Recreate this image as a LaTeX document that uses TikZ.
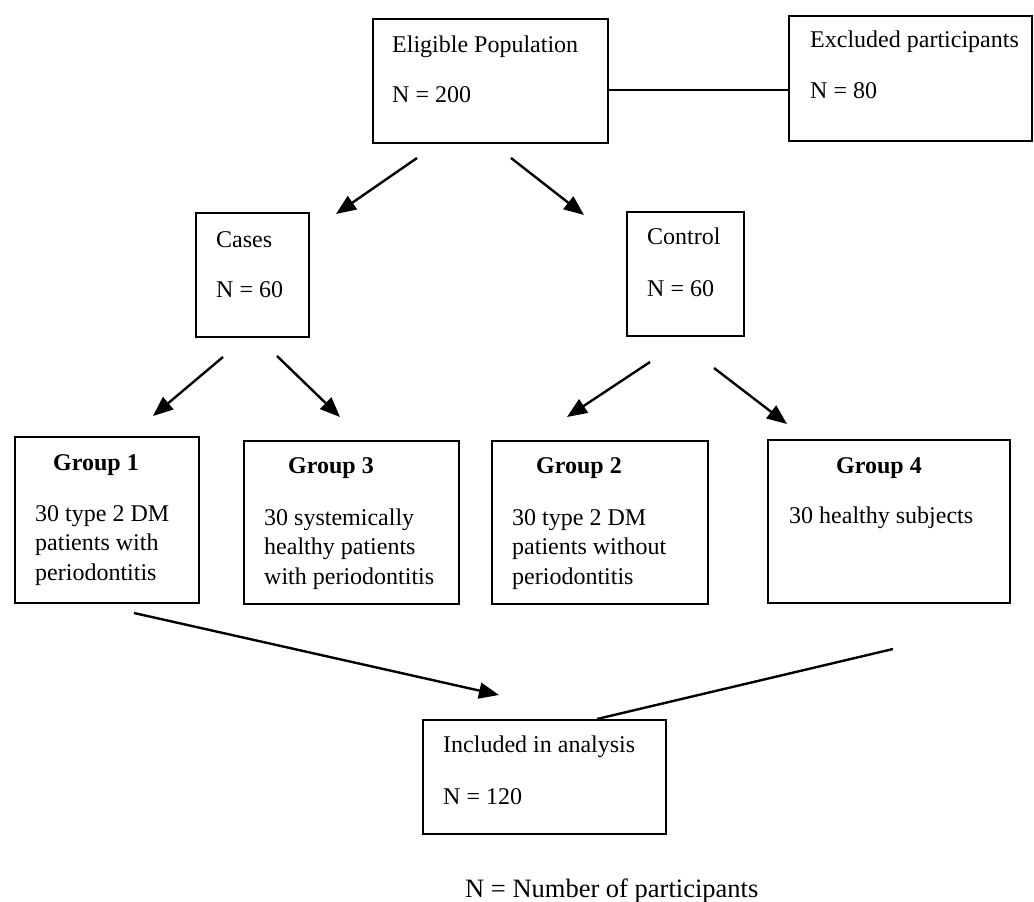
\documentclass[tikz,border=0pt]{standalone}
\usepackage{fontspec}
\setmainfont{Liberation Serif}
\usetikzlibrary{arrows.meta}
\tikzset{
  box/.style={draw, line width=1.8pt, inner sep=0pt, anchor=north west},
  txt/.style={anchor=base west, inner sep=0pt, font=\fontsize{24}{29}\selectfont},
  hdr/.style={txt, font=\fontsize{24}{29}\selectfont\bfseries},
  note/.style={anchor=base west, inner sep=0pt, font=\fontsize{26.5}{32}\selectfont},
  arr/.style={line width=2.4pt, -{Triangle[length=20pt,width=16pt]}},
  conn/.style={line width=2.4pt}
}
\begin{document}
\begin{tikzpicture}[x=1pt,y=-1pt]
\useasboundingbox (0,0) rectangle (1034,902);
% boxes
\node[box, minimum width=235pt, minimum height=124pt] (elig) at (372,18) {};
\node[box, minimum width=243pt, minimum height=125pt] (excl) at (788,15) {};
\node[box, minimum width=113pt, minimum height=124pt] (cases) at (195,212) {};
\node[box, minimum width=117pt, minimum height=124pt] (ctrl) at (626,211) {};
\node[box, minimum width=184pt, minimum height=166pt] (g1) at (14,436) {};
\node[box, minimum width=215pt, minimum height=163pt] (g3) at (243,440) {};
\node[box, minimum width=216pt, minimum height=163pt] (g2) at (491,440) {};
\node[box, minimum width=242pt, minimum height=163pt] (g4) at (767,439) {};
\node[box, minimum width=243pt, minimum height=114pt] (incl) at (422,719) {};
% texts
\node[txt] (eligA) at (392,52) {Eligible Population};
\node[txt] (eligB) at (392,102) {N = 200};
\node[txt] (exclA) at (810,47) {Excluded participants};
\node[txt] (exclB) at (810,98) {N = 80};
\node[txt] (casesA) at (216,247) {Cases};
\node[txt] (casesB) at (216,297) {N = 60};
\node[txt] (ctrlA) at (647,244) {Control};
\node[txt] (ctrlB) at (647,296) {N = 60};
\node[hdr] (g1h) at (53,470) {Group 1};
\node[txt] (g1a) at (35,521) {30 type 2 DM};
\node[txt] (g1b) at (35,550) {patients with};
\node[txt] (g1c) at (35,580) {periodontitis};
\node[hdr] (g3h) at (288,473) {Group 3};
\node[txt] (g3a) at (264,525) {30 systemically};
\node[txt] (g3b) at (264,554) {healthy patients};
\node[txt] (g3c) at (264,584) {with periodontitis};
\node[hdr] (g2h) at (536,473) {Group 2};
\node[txt] (g2a) at (512,525) {30 type 2 DM};
\node[txt] (g2b) at (512,554) {patients without};
\node[txt] (g2c) at (512,584) {periodontitis};
\node[hdr] (g4h) at (836,473) {Group 4};
\node[txt] (g4a) at (789,523) {30 healthy subjects};
\node[txt] (inclA) at (443,752) {Included in analysis};
\node[txt] (inclB) at (443,804) {N = 120};
\node[note] (foot) at (465,897) {N = Number of participants};
% connector end points
\coordinate (eL) at (417,158);
\coordinate (eLt) at (336,214);
\coordinate (eR) at (511,158);
\coordinate (eRt) at (584,215);
\coordinate (cL) at (223,357);
\coordinate (cLt) at (153,416);
\coordinate (cR) at (277,356);
\coordinate (cRt) at (340,417);
\coordinate (kL) at (650,362);
\coordinate (kLt) at (567,417);
\coordinate (kR) at (714,368);
\coordinate (kRt) at (787,424);
\coordinate (bL) at (134,613);
\coordinate (bLt) at (499,695);
\coordinate (bR) at (893,649);
\coordinate (bRe) at (597,719);
% connectors
\draw[conn] (elig.east |- 0,90) -- (excl.west |- 0,90);
\draw[arr] (eL) -- (eLt);
\draw[arr] (eR) -- (eRt);
\draw[arr] (cL) -- (cLt);
\draw[arr] (cR) -- (cRt);
\draw[arr] (kL) -- (kLt);
\draw[arr] (kR) -- (kRt);
\draw[arr] (bL) -- (bLt);
\draw[conn] (bR) -- (bRe);
\end{tikzpicture}
\end{document}
